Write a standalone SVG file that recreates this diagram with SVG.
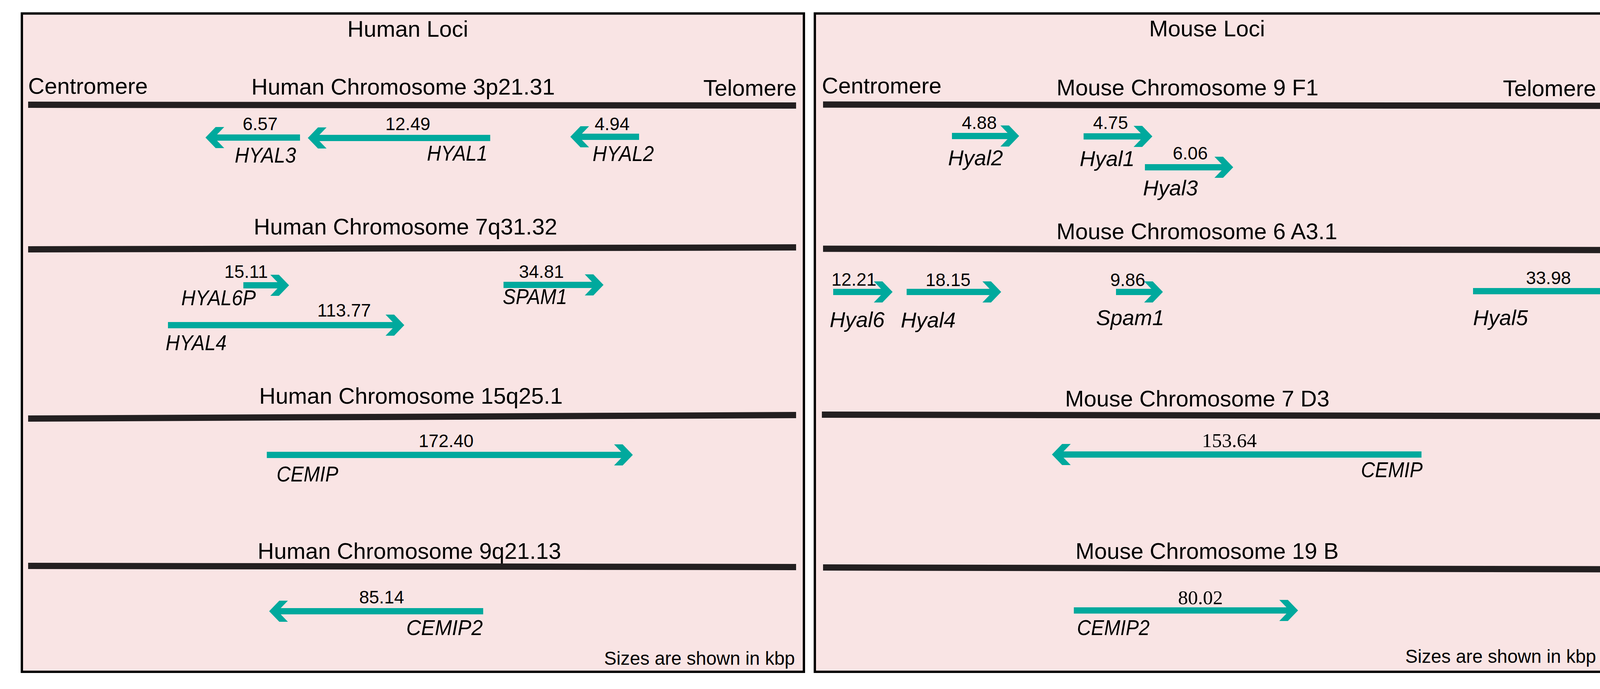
<svg xmlns="http://www.w3.org/2000/svg" width="4286" height="1763" viewBox="0 0 4286 1763">
<style>
.panel{fill:#f9e4e4;stroke:#000;stroke-width:6}
.bar{stroke:#231f20;stroke-width:16;fill:none}
.gene{stroke:#00a99d;stroke-width:16;fill:none;marker-end:url(#head)}
.t{font-family:"Liberation Sans",Arial,sans-serif;font-size:58px;fill:#000}
.mid{text-anchor:middle}
.end{text-anchor:end}
.num{font-family:"Liberation Sans",Arial,sans-serif;font-size:46px;fill:#000;text-anchor:middle}
.snum{font-family:"Liberation Serif","Times New Roman",serif;font-size:51px;fill:#000;text-anchor:middle}
.hg{font-family:"Liberation Sans",Arial,sans-serif;font-style:italic;font-size:55px;fill:#000}
.mg{font-family:"Liberation Sans",Arial,sans-serif;font-style:italic;font-size:55px;fill:#000}
.note{font-family:"Liberation Sans",Arial,sans-serif;font-size:47.5px;fill:#000;text-anchor:end}
</style>
<defs>
<marker id="head" markerUnits="userSpaceOnUse" viewBox="-52 -32 56 64" refX="-10" refY="0" markerWidth="56" markerHeight="64" orient="auto" overflow="visible">
<polygon points="-48,-27 -26,-27 0,0 -26,27 -48,27 -22,0" fill="#00a99d"/>
</marker>
</defs>
<rect x="0" y="0" width="4286" height="1763" fill="#fff"/>

<g id="human-panel">
<rect class="panel" x="56" y="34.5" width="2002" height="1684.5"/>
<text class="t mid" x="1044" y="94">Human Loci</text>
<text class="t" x="72" y="240">Centromere</text>
<text class="t end" x="2039" y="245">Telomere</text>
<text class="note" x="2035" y="1701">Sizes are shown in kbp</text>
</g>

<g id="mouse-panel">
<rect class="panel" x="2086" y="34.5" width="2166" height="1684.5"/>
<text class="t mid" x="3090" y="93">Mouse Loci</text>
<text class="t" x="2104" y="239">Centromere</text>
<text class="t end" x="4086" y="246">Telomere</text>
<text class="note" x="4086" y="1696">Sizes are shown in kbp</text>
</g>

<g id="human-chr3">
<text class="t mid" x="1032" y="242">Human Chromosome 3p21.31</text>
<line class="bar" x1="72" y1="268" x2="2038" y2="270"/>
</g>
<g id="human-chr7">
<text class="t mid" x="1038" y="600">Human Chromosome 7q31.32</text>
<line class="bar" x1="72" y1="638" x2="2038" y2="633"/>
</g>
<g id="human-chr15">
<text class="t mid" x="1052" y="1033">Human Chromosome 15q25.1</text>
<line class="bar" x1="72" y1="1071" x2="2038" y2="1062"/>
</g>
<g id="human-chr9">
<text class="t mid" x="1048" y="1430">Human Chromosome 9q21.13</text>
<line class="bar" x1="72" y1="1448" x2="2038" y2="1451"/>
</g>

<g id="mouse-chr9">
<text class="t mid" x="3040" y="244">Mouse Chromosome 9 F1</text>
<line class="bar" x1="2107" y1="267.5" x2="4230" y2="271"/>
</g>
<g id="mouse-chr6">
<text class="t mid" x="3064" y="612">Mouse Chromosome 6 A3.1</text>
<line class="bar" x1="2107" y1="636.5" x2="4222" y2="640"/>
</g>
<g id="mouse-chr7">
<text class="t mid" x="3065" y="1040">Mouse Chromosome 7 D3</text>
<line class="bar" x1="2104" y1="1061" x2="4225" y2="1065"/>
</g>
<g id="mouse-chr19">
<text class="t mid" x="3090" y="1430">Mouse Chromosome 19 B</text>
<line class="bar" x1="2107" y1="1452" x2="4231" y2="1457"/>
</g>

<g id="connectors">
<line class="gene" x1="768" y1="352" x2="536" y2="352"/>
<line class="gene" x1="1255" y1="353" x2="798" y2="353"/>
<line class="gene" x1="1636" y1="350" x2="1470" y2="350"/>
<line class="gene" x1="623" y1="730" x2="730" y2="730"/>
<line class="gene" x1="430" y1="832" x2="1025" y2="832"/>
<line class="gene" x1="1289" y1="729" x2="1535" y2="729"/>
<line class="gene" x1="683" y1="1164" x2="1610" y2="1164"/>
<line class="gene" x1="1237" y1="1564" x2="699" y2="1564"/>
<line class="gene" x1="2437" y1="348" x2="2599" y2="348"/>
<line class="gene" x1="2774" y1="349" x2="2940" y2="349"/>
<line class="gene" x1="2931" y1="428" x2="3147" y2="428"/>
<line class="gene" x1="2133" y1="747" x2="2275" y2="747"/>
<line class="gene" x1="2321" y1="747" x2="2553" y2="747"/>
<line class="gene" x1="2857" y1="747" x2="2967" y2="747"/>
<line class="gene" x1="3771" y1="745" x2="4201" y2="745"/>
<line class="gene" x1="3639" y1="1163" x2="2703" y2="1163"/>
<line class="gene" x1="2749" y1="1562" x2="3313" y2="1562"/>
</g>

<g id="gene-HYAL3"><text class="num" x="666" y="333">6.57</text><text class="hg" x="601" y="416" textLength="157" lengthAdjust="spacingAndGlyphs">HYAL3</text></g>
<g id="gene-HYAL1"><text class="num" x="1044" y="333">12.49</text><text class="hg" x="1093" y="411" textLength="155" lengthAdjust="spacingAndGlyphs">HYAL1</text></g>
<g id="gene-HYAL2"><text class="num" x="1567" y="333">4.94</text><text class="hg" x="1517" y="412" textLength="157" lengthAdjust="spacingAndGlyphs">HYAL2</text></g>
<g id="gene-HYAL6P"><text class="num" x="630" y="711">15.11</text><text class="hg" x="464" y="781" textLength="191" lengthAdjust="spacingAndGlyphs">HYAL6P</text></g>
<g id="gene-HYAL4"><text class="num" x="881" y="810">113.77</text><text class="hg" x="424" y="896" textLength="156" lengthAdjust="spacingAndGlyphs">HYAL4</text></g>
<g id="gene-SPAM1"><text class="num" x="1386" y="711">34.81</text><text class="hg" x="1287" y="778" textLength="165" lengthAdjust="spacingAndGlyphs">SPAM1</text></g>
<g id="gene-CEMIP-h"><text class="num" x="1142" y="1144">172.40</text><text class="hg" x="708" y="1232" textLength="158" lengthAdjust="spacingAndGlyphs">CEMIP</text></g>
<g id="gene-CEMIP2-h"><text class="num" x="977" y="1544">85.14</text><text class="hg" x="1040" y="1625" textLength="196" lengthAdjust="spacingAndGlyphs">CEMIP2</text></g>

<g id="gene-Hyal2"><text class="num" x="2507" y="330">4.88</text><text class="mg" x="2427" y="423">Hyal2</text></g>
<g id="gene-Hyal1"><text class="num" x="2843" y="330">4.75</text><text class="mg" x="2764" y="425">Hyal1</text></g>
<g id="gene-Hyal3"><text class="num" x="3047" y="408">6.06</text><text class="mg" x="2926" y="500">Hyal3</text></g>
<g id="gene-Hyal6"><text class="num" x="2186" y="731">12.21</text><text class="mg" x="2124" y="837">Hyal6</text></g>
<g id="gene-Hyal4"><text class="num" x="2427" y="732">18.15</text><text class="mg" x="2306" y="838">Hyal4</text></g>
<g id="gene-Spam1"><text class="num" x="2887" y="732">9.86</text><text class="mg" x="2806" y="832">Spam1</text></g>
<g id="gene-Hyal5"><text class="num" x="3964" y="727">33.98</text><text class="mg" x="3771" y="832">Hyal5</text></g>
<g id="gene-CEMIP-m"><text class="snum" x="3147" y="1144">153.64</text><text class="hg" x="3484" y="1221" textLength="158" lengthAdjust="spacingAndGlyphs">CEMIP</text></g>
<g id="gene-CEMIP2-m"><text class="snum" x="3073" y="1546">80.02</text><text class="hg" x="2757" y="1625" textLength="186" lengthAdjust="spacingAndGlyphs">CEMIP2</text></g>
</svg>
